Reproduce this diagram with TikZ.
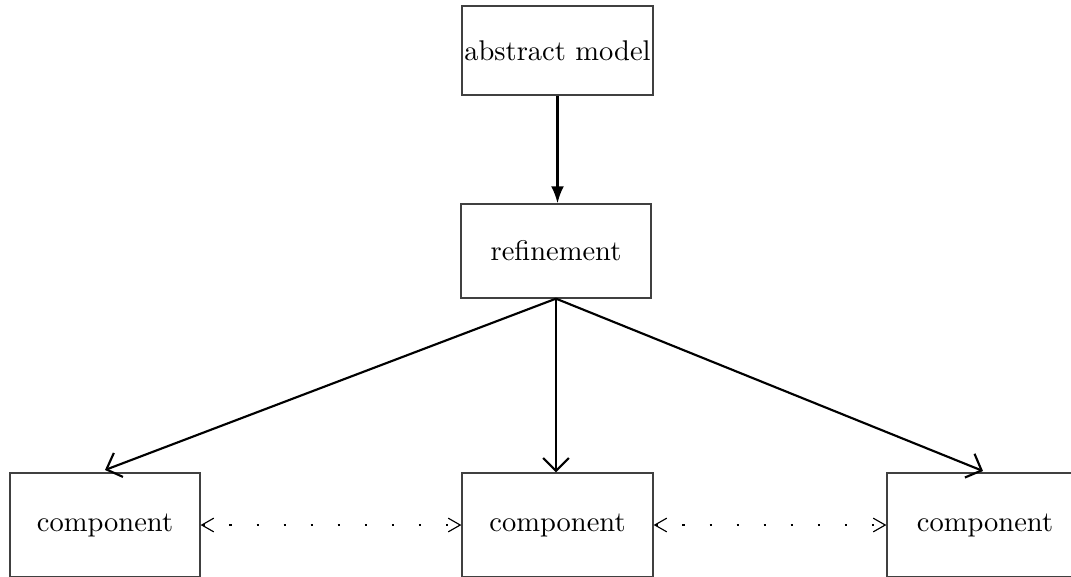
\documentclass[tikz,border=0pt]{standalone}
\usetikzlibrary{arrows.meta}
\begin{document}
\begin{tikzpicture}[x=0.3509pt,y=-0.3509pt,
  box/.style={draw=black!75,line width=0.45pt,inner sep=0pt,font=\fontsize{10}{12}\selectfont},
  flow/.style={line width=0.75pt,-{Straight Barb[length=4.5pt,width=9pt]}},
  flowtop/.style={line width=0.75pt,-{Latex[length=6pt,width=4.5pt]}},
  link/.style={line width=0.8pt,dash pattern=on 0.8pt off 8.7pt,
    {Straight Barb[length=4.2pt,width=4.8pt,line width=0.4pt]}-{Straight Barb[length=4.2pt,width=4.8pt,line width=0.4pt]}}]
\useasboundingbox (0,0) rectangle (1071,576);
\clip (0,0) rectangle (1071,576);
\node[box,minimum width=191*0.3509pt,minimum height=89*0.3509pt] (abs) at (557.5,50.5) {abstract model};
\node[box,minimum width=190*0.3509pt,minimum height=94*0.3509pt] (ref) at (556,251) {refinement};
\node[box,minimum width=190*0.3509pt,minimum height=104*0.3509pt] (c1) at (105,525) {component};
\node[box,minimum width=191*0.3509pt,minimum height=104*0.3509pt] (c2) at (557.5,525) {component};
\node[box,minimum width=196*0.3509pt,minimum height=104*0.3509pt] (c3) at (985,525) {component};
\coordinate (t1) at (105,470);
\coordinate (t3) at (983,471);
\draw[flowtop] (abs.south) -- (abs.south |- ref.north);
\draw[flow] (ref.south) -- (t1);
\draw[flow] (ref.south) -- (ref.south |- c2.north);
\draw[flow] (ref.south) -- (t3);
\draw[link] (c1.east) -- (c2.west);
\draw[link] (c2.east) -- (c3.west);
\end{tikzpicture}
\end{document}
